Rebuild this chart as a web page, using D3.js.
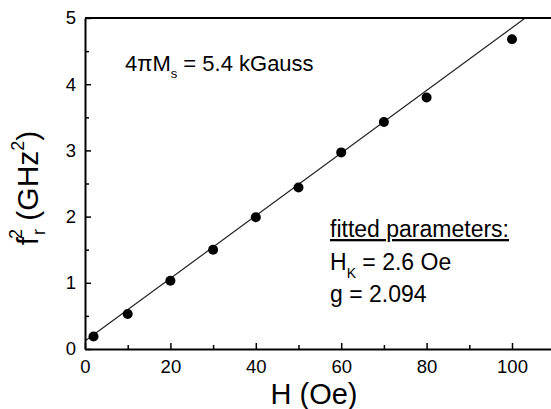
<!DOCTYPE html>
<meta charset="utf-8">
<style>
body { margin: 0; background: #fff; }
svg { font-family: "Liberation Sans", Arial, sans-serif; }
.axis path, .axis line { stroke: #000; }
.axis path { stroke-width: 2px; }
.axis line { stroke-width: 1.5px; }
.axis text { font-size: 18.5px; fill: #000; }
.fit { stroke: #222; stroke-width: 1.2px; fill: none; }
.dot { fill: #000; }
</style>
<body>
<script src="https://cdn.jsdelivr.net/npm/d3@7"></script>
<script>
// data
var fieldOe  = [2, 10, 20, 30, 40, 50, 60, 70, 80, 100];
var freqSq   = [0.19, 0.53, 1.03, 1.50, 1.99, 2.44, 2.97, 3.43, 3.80, 4.68];
// fitted line end points
var fitH  = [0, 103.1];
var fitF2 = [0.12, 5.0];

var xMajor = [0, 20, 40, 60, 80, 100];
var xMinor = [10, 30, 50, 70, 90];
var yMajor = [0, 1, 2, 3, 4, 5];
var yMinor = [0.5, 1.5, 2.5, 3.5, 4.5];

var width = 551, height = 409;
var padL = 85, padT = 18, padB = 349;

var x = d3.scaleLinear().domain([0, 110]).range([padL, padL + 110 * 4.27]);
var y = d3.scaleLinear().domain([0, 5]).range([padB, padT]);

var svg = d3.select("body").append("svg")
    .attr("width", width)
    .attr("height", height);

svg.append("clipPath").attr("id", "plot")
  .append("rect")
    .attr("x", padL).attr("y", padT)
    .attr("width", x.range()[1] - padL).attr("height", padB - padT);

// fit line
svg.append("path")
    .attr("class", "fit")
    .attr("clip-path", "url(#plot)")
    .attr("d", d3.line().x(d => x(d[0])).y(d => y(d[1]))(d3.zip(fitH, fitF2)));

// points
svg.selectAll(".dot")
    .data(d3.zip(fieldOe, freqSq))
    .enter().append("circle")
    .attr("class", "dot")
    .attr("cx", d => x(d[0]))
    .attr("cy", d => y(d[1]))
    .attr("r", 5);

// minor ticks (inward)
svg.append("g").attr("class", "axis")
    .attr("transform", "translate(0," + padB + ")")
    .call(d3.axisBottom(x).tickValues(xMinor).tickSize(-4).tickFormat(""))
    .select(".domain").remove();
svg.append("g").attr("class", "axis")
    .attr("transform", "translate(" + padL + ",0)")
    .call(d3.axisLeft(y).tickValues(yMinor).tickSize(-4).tickFormat(""))
    .select(".domain").remove();

// major axes
svg.append("g").attr("class", "axis")
    .attr("transform", "translate(0," + padB + ")")
    .call(d3.axisBottom(x).tickValues(xMajor).tickSize(-6).tickSizeOuter(0).tickPadding(11));
svg.append("g").attr("class", "axis")
    .attr("transform", "translate(" + padL + ",0)")
    .call(d3.axisLeft(y).tickValues(yMajor).tickFormat(d3.format("d"))
        .tickSize(-6).tickSizeOuter(0).tickPadding(9));

// top frame
svg.append("line")
    .attr("x1", padL).attr("x2", x.range()[1])
    .attr("y1", padT).attr("y2", padT)
    .attr("stroke", "#000").attr("stroke-width", 2);

// axis titles
svg.append("text")
    .attr("x", 314).attr("y", 404)
    .attr("text-anchor", "middle")
    .style("font-size", "29px")
    .text("H (Oe)");

var yt = svg.append("text")
    .attr("transform", "translate(38,188) rotate(-90)")
    .attr("text-anchor", "middle")
    .style("font-size", "30px");
yt.append("tspan").text("f");
yt.append("tspan").attr("dx", 2).attr("dy", 7).style("font-size", "18px").text("r");
yt.append("tspan").attr("dx", -10).attr("dy", -23).style("font-size", "18px").text("2");
yt.append("tspan").attr("dy", 16).text(" (GHz");
yt.append("tspan").attr("dy", -14).style("font-size", "18px").text("2");
yt.append("tspan").attr("dy", 14).text(")");

// annotations
var ms = svg.append("text")
    .attr("x", 125).attr("y", 71)
    .style("font-size", "22px");
ms.append("tspan").text("4\u03c0M");
ms.append("tspan").attr("dy", 7).style("font-size", "13px").text("s");
ms.append("tspan").attr("dy", -7).text(" = 5.4 kGauss");

svg.append("text")
    .attr("x", 330).attr("y", 237)
    .style("font-size", "23px")
    .style("text-decoration", "underline")
    .text("fitted parameters:");

var hk = svg.append("text")
    .attr("x", 330).attr("y", 269.5)
    .style("font-size", "23px");
hk.append("tspan").text("H");
hk.append("tspan").attr("dy", 8).style("font-size", "14px").text("K");
hk.append("tspan").attr("dy", -8).text(" = 2.6 Oe");

svg.append("text")
    .attr("x", 330).attr("y", 302)
    .style("font-size", "23px")
    .text("g = 2.094");
</script>
</body>
